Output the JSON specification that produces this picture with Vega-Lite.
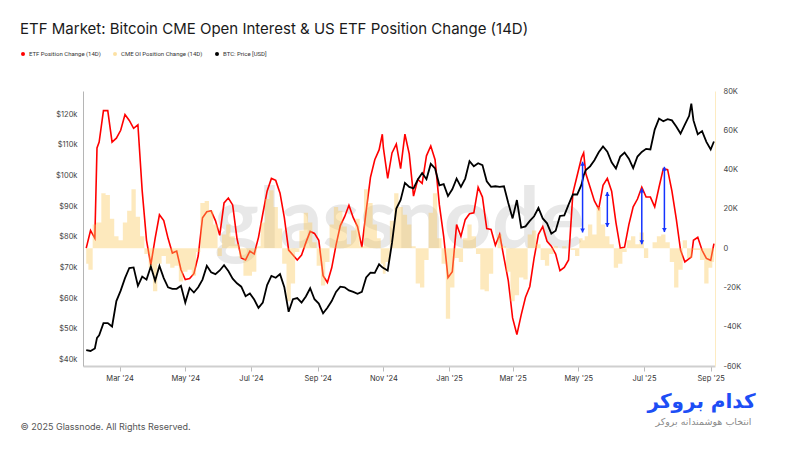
{
  "$schema": "https://vega.github.io/schema/vega-lite/v6.json",
  "background": "white",
  "autosize": {"type": "none"},
  "padding": {"left": 83, "top": 91, "right": 85, "bottom": 84},
  "width": 632,
  "height": 275,
  "title": {
    "text": "ETF Market: Bitcoin CME Open Interest & US ETF Position Change (14D)",
    "anchor": "start",
    "dx": 0,
    "dy": -10,
    "font": "Inter",
    "fontSize": 15,
    "fontWeight": 400,
    "color": "#1a1a1a"
  },
  "datasets": {
    "main": [
      {"d": "2024-01-30", "btc": 43, "etf": 0, "oi": -8},
      {"d": "2024-02-03", "btc": 42.7, "etf": 9, "oi": -11},
      {"d": "2024-02-07", "btc": 43.5, "etf": 5, "oi": 12},
      {"d": "2024-02-09", "btc": 47, "etf": 51, "oi": 13},
      {"d": "2024-02-11", "btc": 47.8, "etf": 54, "oi": 13},
      {"d": "2024-02-15", "btc": 51.8, "etf": 70, "oi": 28},
      {"d": "2024-02-19", "btc": 51.8, "etf": 70, "oi": 27},
      {"d": "2024-02-23", "btc": 50.7, "etf": 54, "oi": 15},
      {"d": "2024-02-27", "btc": 59, "etf": 56, "oi": 6},
      {"d": "2024-03-02", "btc": 62.4, "etf": 60, "oi": 4},
      {"d": "2024-03-06", "btc": 66.5, "etf": 68, "oi": 13},
      {"d": "2024-03-10", "btc": 69.8, "etf": 65, "oi": 19},
      {"d": "2024-03-14", "btc": 70, "etf": 61, "oi": 30},
      {"d": "2024-03-18", "btc": 64, "etf": 62.8, "oi": 16},
      {"d": "2024-03-22", "btc": 67, "etf": 29, "oi": 6},
      {"d": "2024-03-26", "btc": 66, "etf": 4, "oi": -3},
      {"d": "2024-03-30", "btc": 70.3, "etf": -8.5, "oi": -10},
      {"d": "2024-04-03", "btc": 65.6, "etf": 5, "oi": -22},
      {"d": "2024-04-07", "btc": 70.5, "etf": 17, "oi": -8},
      {"d": "2024-04-11", "btc": 66.5, "etf": 14, "oi": -4},
      {"d": "2024-04-15", "btc": 63.5, "etf": 5, "oi": -8},
      {"d": "2024-04-19", "btc": 63, "etf": -2.5, "oi": -10},
      {"d": "2024-04-23", "btc": 63, "etf": -1.5, "oi": -9},
      {"d": "2024-04-27", "btc": 64, "etf": -11, "oi": -17},
      {"d": "2024-05-01", "btc": 58.5, "etf": -16, "oi": -12},
      {"d": "2024-05-05", "btc": 63.3, "etf": -15.5, "oi": -11},
      {"d": "2024-05-09", "btc": 61.8, "etf": -13, "oi": -14},
      {"d": "2024-05-13", "btc": 63.5, "etf": -4, "oi": -2},
      {"d": "2024-05-17", "btc": 66, "etf": 15.5, "oi": 23},
      {"d": "2024-05-21", "btc": 70.5, "etf": 18.5, "oi": 24},
      {"d": "2024-05-25", "btc": 68.4, "etf": 19, "oi": 19},
      {"d": "2024-05-29", "btc": 67.8, "etf": 14, "oi": 12},
      {"d": "2024-06-02", "btc": 69, "etf": 6.5, "oi": -4},
      {"d": "2024-06-06", "btc": 70.7, "etf": 23, "oi": 7},
      {"d": "2024-06-10", "btc": 68.8, "etf": 25.5, "oi": 12},
      {"d": "2024-06-14", "btc": 66.3, "etf": 22, "oi": 6},
      {"d": "2024-06-18", "btc": 64.8, "etf": 5, "oi": 2},
      {"d": "2024-06-22", "btc": 63.7, "etf": -5, "oi": -5},
      {"d": "2024-06-26", "btc": 60.6, "etf": -6, "oi": -14},
      {"d": "2024-06-30", "btc": 61.5, "etf": -1.5, "oi": -14},
      {"d": "2024-07-04", "btc": 59.5, "etf": -3, "oi": -12},
      {"d": "2024-07-08", "btc": 56.8, "etf": 5.5, "oi": 1},
      {"d": "2024-07-12", "btc": 58.5, "etf": 17.5, "oi": 13},
      {"d": "2024-07-16", "btc": 64.2, "etf": 29, "oi": 25},
      {"d": "2024-07-20", "btc": 67.2, "etf": 35.5, "oi": 29.5},
      {"d": "2024-07-24", "btc": 66.6, "etf": 34.5, "oi": 21},
      {"d": "2024-07-28", "btc": 67.8, "etf": 28, "oi": 10},
      {"d": "2024-08-01", "btc": 63.5, "etf": 15.5, "oi": -8},
      {"d": "2024-08-05", "btc": 55.5, "etf": -1, "oi": -27},
      {"d": "2024-08-09", "btc": 59.6, "etf": -3.5, "oi": -18},
      {"d": "2024-08-13", "btc": 60, "etf": -6, "oi": -2},
      {"d": "2024-08-17", "btc": 58.5, "etf": -3.5, "oi": 9},
      {"d": "2024-08-21", "btc": 60.5, "etf": 2.8, "oi": 18},
      {"d": "2024-08-25", "btc": 63.2, "etf": 8.5, "oi": 13},
      {"d": "2024-08-29", "btc": 59.6, "etf": 7.5, "oi": 3},
      {"d": "2024-09-02", "btc": 58.2, "etf": 4, "oi": -9},
      {"d": "2024-09-06", "btc": 55, "etf": -14, "oi": -19},
      {"d": "2024-09-10", "btc": 56.8, "etf": -17.5, "oi": -7},
      {"d": "2024-09-14", "btc": 59, "etf": -10, "oi": 12},
      {"d": "2024-09-18", "btc": 62, "etf": 1.5, "oi": 21},
      {"d": "2024-09-22", "btc": 63.7, "etf": 11.5, "oi": 19},
      {"d": "2024-09-26", "btc": 63.5, "etf": 16, "oi": 11},
      {"d": "2024-09-30", "btc": 62.5, "etf": 21.8, "oi": 2},
      {"d": "2024-10-04", "btc": 62, "etf": 15.5, "oi": 9},
      {"d": "2024-10-08", "btc": 61.4, "etf": 11, "oi": 15},
      {"d": "2024-10-12", "btc": 62, "etf": 0.5, "oi": 1},
      {"d": "2024-10-16", "btc": 66.7, "etf": 19, "oi": 30},
      {"d": "2024-10-20", "btc": 68.3, "etf": 36, "oi": 23},
      {"d": "2024-10-24", "btc": 68.2, "etf": 45, "oi": 12},
      {"d": "2024-10-28", "btc": 71, "etf": 50, "oi": 5},
      {"d": "2024-10-31", "btc": 70, "etf": 58, "oi": -8},
      {"d": "2024-11-01", "btc": 69.8, "etf": 51, "oi": -13},
      {"d": "2024-11-05", "btc": 69, "etf": 35.5, "oi": -7},
      {"d": "2024-11-09", "btc": 78, "etf": 48.5, "oi": 14},
      {"d": "2024-11-13", "btc": 89.2, "etf": 53, "oi": 28},
      {"d": "2024-11-17", "btc": 92, "etf": 40.5, "oi": 21},
      {"d": "2024-11-21", "btc": 97.6, "etf": 58, "oi": 17},
      {"d": "2024-11-25", "btc": 96.3, "etf": 48, "oi": 12},
      {"d": "2024-11-29", "btc": 95.8, "etf": 26.5, "oi": 1},
      {"d": "2024-12-03", "btc": 98.7, "etf": 35, "oi": -18},
      {"d": "2024-12-07", "btc": 100.8, "etf": 33, "oi": -20},
      {"d": "2024-12-11", "btc": 98.8, "etf": 47, "oi": -6},
      {"d": "2024-12-15", "btc": 103.8, "etf": 52, "oi": 18},
      {"d": "2024-12-19", "btc": 102.3, "etf": 45, "oi": 28},
      {"d": "2024-12-23", "btc": 96.8, "etf": 22, "oi": 5},
      {"d": "2024-12-27", "btc": 97.2, "etf": 6, "oi": -8},
      {"d": "2024-12-31", "btc": 93.3, "etf": -15, "oi": -36},
      {"d": "2025-01-04", "btc": 95.5, "etf": -12, "oi": -20},
      {"d": "2025-01-08", "btc": 99, "etf": 12, "oi": -5},
      {"d": "2025-01-12", "btc": 96.3, "etf": 6, "oi": -7},
      {"d": "2025-01-16", "btc": 99, "etf": 14.5, "oi": 5},
      {"d": "2025-01-20", "btc": 104.7, "etf": 17.5, "oi": 12},
      {"d": "2025-01-24", "btc": 103, "etf": 18, "oi": 6},
      {"d": "2025-01-28", "btc": 104, "etf": 31, "oi": -3},
      {"d": "2025-02-01", "btc": 103.4, "etf": 26, "oi": -21},
      {"d": "2025-02-05", "btc": 98.1, "etf": 10, "oi": -22},
      {"d": "2025-02-09", "btc": 96.3, "etf": 9.5, "oi": -13},
      {"d": "2025-02-13", "btc": 96.5, "etf": 1.5, "oi": 0},
      {"d": "2025-02-17", "btc": 96.3, "etf": 7, "oi": 7},
      {"d": "2025-02-21", "btc": 96.5, "etf": -5, "oi": 1},
      {"d": "2025-02-25", "btc": 91, "etf": -16.5, "oi": -12},
      {"d": "2025-03-01", "btc": 86, "etf": -35.5, "oi": -27},
      {"d": "2025-03-05", "btc": 92, "etf": -44, "oi": -24},
      {"d": "2025-03-09", "btc": 83, "etf": -34, "oi": -15},
      {"d": "2025-03-13", "btc": 83.4, "etf": -25, "oi": -16},
      {"d": "2025-03-17", "btc": 85.2, "etf": -19.5, "oi": 7},
      {"d": "2025-03-21", "btc": 86.7, "etf": -5, "oi": 9},
      {"d": "2025-03-25", "btc": 89.4, "etf": 7, "oi": 2},
      {"d": "2025-03-29", "btc": 86, "etf": 11, "oi": -6},
      {"d": "2025-04-02", "btc": 84.4, "etf": 3.5, "oi": -9},
      {"d": "2025-04-06", "btc": 81, "etf": 1, "oi": -3},
      {"d": "2025-04-10", "btc": 82, "etf": -3, "oi": 1},
      {"d": "2025-04-14", "btc": 86.8, "etf": -11.5, "oi": 0},
      {"d": "2025-04-18", "btc": 87, "etf": -9.8, "oi": 1},
      {"d": "2025-04-22", "btc": 90.5, "etf": -6, "oi": 0},
      {"d": "2025-04-26", "btc": 93.8, "etf": 28, "oi": -1},
      {"d": "2025-04-30", "btc": 93.8, "etf": 37, "oi": -4},
      {"d": "2025-05-04", "btc": 97, "etf": 46, "oi": 5},
      {"d": "2025-05-06", "btc": 100, "etf": 48.5, "oi": 4},
      {"d": "2025-05-08", "btc": 101.8, "etf": 38, "oi": 6},
      {"d": "2025-05-12", "btc": 103, "etf": 31, "oi": 12},
      {"d": "2025-05-16", "btc": 105, "etf": 24, "oi": 7},
      {"d": "2025-05-20", "btc": 107.6, "etf": 20, "oi": 21},
      {"d": "2025-05-24", "btc": 109.5, "etf": 32, "oi": 12},
      {"d": "2025-05-28", "btc": 107.8, "etf": 35.5, "oi": 6},
      {"d": "2025-06-01", "btc": 104.3, "etf": 29, "oi": 2},
      {"d": "2025-06-05", "btc": 102.3, "etf": 13, "oi": -10},
      {"d": "2025-06-09", "btc": 106.2, "etf": 0, "oi": -8},
      {"d": "2025-06-13", "btc": 107.5, "etf": 0.5, "oi": -2},
      {"d": "2025-06-17", "btc": 105.5, "etf": 12, "oi": 4},
      {"d": "2025-06-21", "btc": 102.4, "etf": 21, "oi": 6},
      {"d": "2025-06-25", "btc": 106.2, "etf": 25, "oi": 2},
      {"d": "2025-06-29", "btc": 107.7, "etf": 31, "oi": 8},
      {"d": "2025-07-03", "btc": 108.7, "etf": 26, "oi": -5},
      {"d": "2025-07-07", "btc": 108.5, "etf": 26, "oi": 0},
      {"d": "2025-07-11", "btc": 115, "etf": 21, "oi": 3},
      {"d": "2025-07-15", "btc": 118.6, "etf": 31, "oi": 6},
      {"d": "2025-07-19", "btc": 117.7, "etf": 40.5, "oi": 7},
      {"d": "2025-07-23", "btc": 118.4, "etf": 40, "oi": 3},
      {"d": "2025-07-27", "btc": 118, "etf": 29, "oi": -7},
      {"d": "2025-07-31", "btc": 116, "etf": 15, "oi": -20},
      {"d": "2025-08-04", "btc": 113.7, "etf": -1, "oi": -11},
      {"d": "2025-08-08", "btc": 116.6, "etf": -7, "oi": 4},
      {"d": "2025-08-12", "btc": 119.5, "etf": -5.3, "oi": -5},
      {"d": "2025-08-14", "btc": 123.5, "etf": -4.5, "oi": -5},
      {"d": "2025-08-16", "btc": 118, "etf": 4, "oi": -1},
      {"d": "2025-08-20", "btc": 113.5, "etf": 5.5, "oi": -1},
      {"d": "2025-08-24", "btc": 114.5, "etf": -1.1, "oi": -6},
      {"d": "2025-08-28", "btc": 111, "etf": -5.2, "oi": -18},
      {"d": "2025-09-01", "btc": 108.5, "etf": -6.2, "oi": -10},
      {"d": "2025-09-04", "btc": 111.1, "etf": 2.3, "oi": -7}
    ],
    "arrows": [
      {"d": "2025-05-05", "top": 44, "bottom": 8},
      {"d": "2025-05-28", "top": 28.6, "bottom": 10.8},
      {"d": "2025-06-29", "top": 30.4, "bottom": 2},
      {"d": "2025-07-20", "top": 41.4, "bottom": 8.2}
    ],
    "mark": [{"t": "glassnode"}]
  },
  "resolve": {"scale": {"y": "independent"}},
  "layer": [
    {
      "data": {"name": "mark"},
      "mark": {"type": "text", "font": "Lato", "fontWeight": "bold", "fontSize": 84, "color": "#e8e8e8", "align": "center", "baseline": "alphabetic"},
      "encoding": {
        "x": {"datum": {"year": 2024, "month": 11, "date": 16}, "type": "temporal"},
        "y": {"datum": 0, "type": "quantitative", "scale": {"domain": [-60, 80], "nice": false, "zero": false}, "axis": null},
        "text": {"field": "t"}
      }
    },
    {
      "data": {"name": "main"},
      "mark": {"type": "line", "strokeWidth": 1.6},
      "encoding": {
        "x": {
          "field": "d",
          "type": "temporal",
          "scale": {"domain": [{"year": 2024, "month": 1, "date": 27}, {"year": 2025, "month": 9, "date": 5}], "nice": false},
          "axis": {
            "format": "%b '%y",
            "tickCount": {"interval": "month", "step": 2},
            "grid": false,
            "labelFont": "Inter",
            "labelFontSize": 7.5,
            "labelColor": "#333",
            "labelPadding": 3,
            "domainColor": "#cfcfcf",
            "domainWidth": 2,
            "tickColor": "#bbbbbb",
            "tickSize": 5,
            "title": "© 2025 Glassnode. All Rights Reserved.",
            "titleX": -63,
            "titleY": 60,
            "titleAlign": "left",
            "titleBaseline": "middle",
            "titleFont": "Inter",
            "titleFontSize": 9,
            "titleFontWeight": "normal",
            "titleColor": "#555"
          }
        },
        "y": {
          "field": "etf",
          "type": "quantitative",
          "scale": {"domain": [-60, 80], "nice": false, "zero": false},
          "axis": {
            "orient": "right",
            "values": [-60, -40, -20, 0, 20, 40, 60, 80],
            "labelExpr": "datum.value == 0 ? '0' : datum.value + 'K'",
            "grid": false,
            "ticks": false,
            "labelFont": "Inter",
            "labelFontSize": 7.5,
            "labelColor": "#444",
            "labelPadding": 8,
            "domainColor": "#fdebc2",
            "title": "کدام بروکر",
            "titleAngle": 0,
            "titleX": -14,
            "titleY": 310,
            "titleAlign": "center",
            "titleBaseline": "middle",
            "titleFont": "DejaVu Sans",
            "titleFontSize": 20,
            "titleFontWeight": "bold",
            "titleColor": "#1d4ef5"
          }
        },
        "color": {
          "datum": "ETF Position Change (14D)",
          "scale": {
            "domain": ["ETF Position Change (14D)", "CME OI Position Change (14D)", "BTC: Price [USD]"],
            "range": ["#ff0000", "#f9c95a", "#000000"]
          },
          "legend": {
            "orient": "none",
            "legendX": -63,
            "legendY": -40,
            "direction": "horizontal",
            "title": null,
            "symbolType": "circle",
            "symbolSize": 16,
            "labelFont": "Roboto",
            "labelFontSize": 6,
            "labelColor": "#333",
            "labelOffset": 3,
            "columnPadding": 11,
            "encode": {
              "symbols": {
                "update": {
                  "fill": {"scale": "color", "field": "value"},
                  "strokeWidth": {"value": 0},
                  "opacity": {"signal": "datum.value == 'CME OI Position Change (14D)' ? 0.55 : 1"}
                }
              }
            }
          }
        }
      }
    },
    {
      "data": {"name": "main"},
      "mark": {"type": "area", "interpolate": "step", "opacity": 0.4},
      "encoding": {
        "x": {"field": "d", "type": "temporal"},
        "y": {"field": "oi", "type": "quantitative", "scale": {"domain": [-60, 80], "nice": false, "zero": false}, "axis": null},
        "y2": {"datum": 0},
        "color": {"datum": "CME OI Position Change (14D)"}
      }
    },
    {
      "data": {"name": "main"},
      "mark": {"type": "line", "strokeWidth": 1.8},
      "encoding": {
        "x": {"field": "d", "type": "temporal"},
        "y": {
          "field": "btc",
          "type": "quantitative",
          "scale": {"domain": [37.8, 127.6], "nice": false, "zero": false},
          "axis": {
            "orient": "left",
            "values": [40, 50, 60, 70, 80, 90, 100, 110, 120],
            "labelExpr": "'$' + datum.value + 'k'",
            "grid": false,
            "ticks": false,
            "labelFont": "Inter",
            "labelFontSize": 7.5,
            "labelColor": "#444",
            "labelPadding": 6,
            "domainColor": "#b5b5b5",
            "title": "انتخاب هوشمندانه بروکر",
            "titleAngle": 0,
            "titleX": 620,
            "titleY": 330,
            "titleAlign": "center",
            "titleBaseline": "middle",
            "titleFont": "DejaVu Sans",
            "titleFontSize": 9.5,
            "titleFontWeight": "normal",
            "titleColor": "#8a8a8a"
          }
        },
        "color": {"datum": "BTC: Price [USD]"}
      }
    },
    {
      "data": {"name": "arrows"},
      "mark": {"type": "rule", "strokeWidth": 1.5, "color": "#1433ff"},
      "encoding": {
        "x": {"field": "d", "type": "temporal"},
        "y": {"field": "top", "type": "quantitative", "scale": {"domain": [-60, 80], "nice": false, "zero": false}, "axis": null},
        "y2": {"field": "bottom"}
      }
    },
    {
      "data": {"name": "arrows"},
      "mark": {"type": "point", "shape": "triangle-up", "filled": true, "size": 22, "opacity": 1, "color": "#1433ff", "yOffset": 2},
      "encoding": {
        "x": {"field": "d", "type": "temporal"},
        "y": {"field": "top", "type": "quantitative", "scale": {"domain": [-60, 80], "nice": false, "zero": false}, "axis": null}
      }
    },
    {
      "data": {"name": "arrows"},
      "mark": {"type": "point", "shape": "triangle-down", "filled": true, "size": 22, "opacity": 1, "color": "#1433ff", "yOffset": -2},
      "encoding": {
        "x": {"field": "d", "type": "temporal"},
        "y": {"field": "bottom", "type": "quantitative", "scale": {"domain": [-60, 80], "nice": false, "zero": false}, "axis": null}
      }
    }
  ],
  "config": {
    "view": {"stroke": null},
    "font": "Inter"
  }
}
